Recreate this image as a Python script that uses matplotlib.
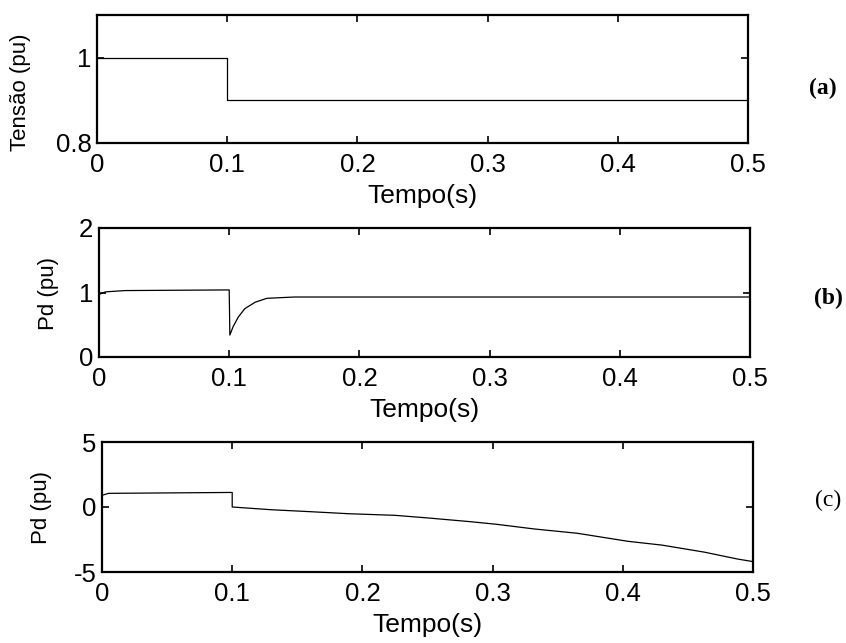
import matplotlib
matplotlib.use("Agg")
import matplotlib.pyplot as plt

# ---------------------------------------------------------------------------
# data
# ---------------------------------------------------------------------------
# (a) voltage sag at t = 0.1 s
t_a = [0.0, 0.1, 0.1, 0.5]
v_a = [1.0, 1.0, 0.9, 0.9]

# (b) Pd with dip and recovery after the sag
t_b = [0.0, 0.005, 0.02, 0.1, 0.1005, 0.103, 0.107, 0.112, 0.12, 0.129,
       0.15, 0.3, 0.5]
p_b = [0.97, 1.01, 1.03, 1.04, 0.34, 0.47, 0.62, 0.75, 0.85, 0.91,
       0.93, 0.93, 0.93]

# (c) Pd drifting down after the sag
t_c = [0.0, 0.005, 0.1, 0.1, 0.13, 0.16, 0.19, 0.225, 0.25, 0.283, 0.303,
       0.332, 0.365, 0.404, 0.43, 0.4625, 0.488, 0.5]
p_c = [0.9, 1.05, 1.12, 0.0, -0.21, -0.36, -0.52, -0.64, -0.84, -1.13,
       -1.33, -1.69, -2.02, -2.64, -2.93, -3.47, -4.0, -4.2]

x_ticks = [0, 0.1, 0.2, 0.3, 0.4, 0.5]
x_ticklabels = ["0", "0.1", "0.2", "0.3", "0.4", "0.5"]

# rect = left, top, width, height in pixels
# ylab = (right edge, centre) of the rotated y label in pixels
panels = [
    dict(t=t_a, y=v_a, ylim=(0.8, 1.1), yticks=[0.8, 1], yticklabels=["0.8", "1"],
         ylabel="Tensão (pu)", tag="(a)", tag_weight="bold",
         rect=[97, 15, 651, 128], ylab=(31, 92), tag_xy=(823, 88)),
    dict(t=t_b, y=p_b, ylim=(0, 2), yticks=[0, 1, 2], yticklabels=["0", "1", "2"],
         ylabel="Pd (pu)", tag="(b)", tag_weight="bold",
         rect=[99, 228, 651, 129], ylab=(59, 293), tag_xy=(828, 298)),
    dict(t=t_c, y=p_c, ylim=(-5, 5), yticks=[-5, 0, 5], yticklabels=["-5", "0", "5"],
         ylabel="Pd (pu)", tag="(c)", tag_weight="normal",
         rect=[102, 442, 651, 130], ylab=(52, 507), tag_xy=(828, 500)),
]

W, H = 846, 643
plt.rcParams["font.family"] = ["Liberation Sans", "DejaVu Sans"]
fig = plt.figure(figsize=(W / 100, H / 100), dpi=100)

for p in panels:
    left, top, w, h = p["rect"]
    ax = fig.add_axes([left / W, 1 - (top + h) / H, w / W, h / H])
    ax.plot(p["t"], p["y"], color="black", lw=0.9)
    ax.set_xlim(0, 0.5)
    ax.set_ylim(*p["ylim"])
    ax.set_xticks(x_ticks)
    ax.set_xticklabels(x_ticklabels)
    ax.set_yticks(p["yticks"])
    ax.set_yticklabels(p["yticklabels"])
    ax.tick_params(direction="in", top=True, right=True, length=5, width=1.2,
                   labelsize=18.5)
    ax.tick_params(axis="x", pad=7)
    ax.tick_params(axis="y", pad=4)
    for s in ax.spines.values():
        s.set_linewidth(1.6)
    ax.set_xlabel("Tempo(s)", fontsize=19, labelpad=5)
    ax.set_ylabel(p["ylabel"], fontsize=16)
    lx, ly = p["ylab"]
    ax.yaxis.set_label_coords((lx - left) / w, (top + h - ly) / h)
    fig.text(p["tag_xy"][0] / W, 1 - p["tag_xy"][1] / H, p["tag"],
             family="Liberation Serif", weight=p["tag_weight"], fontsize=17,
             ha="center", va="center")

fig.savefig("out.png", dpi=100)
